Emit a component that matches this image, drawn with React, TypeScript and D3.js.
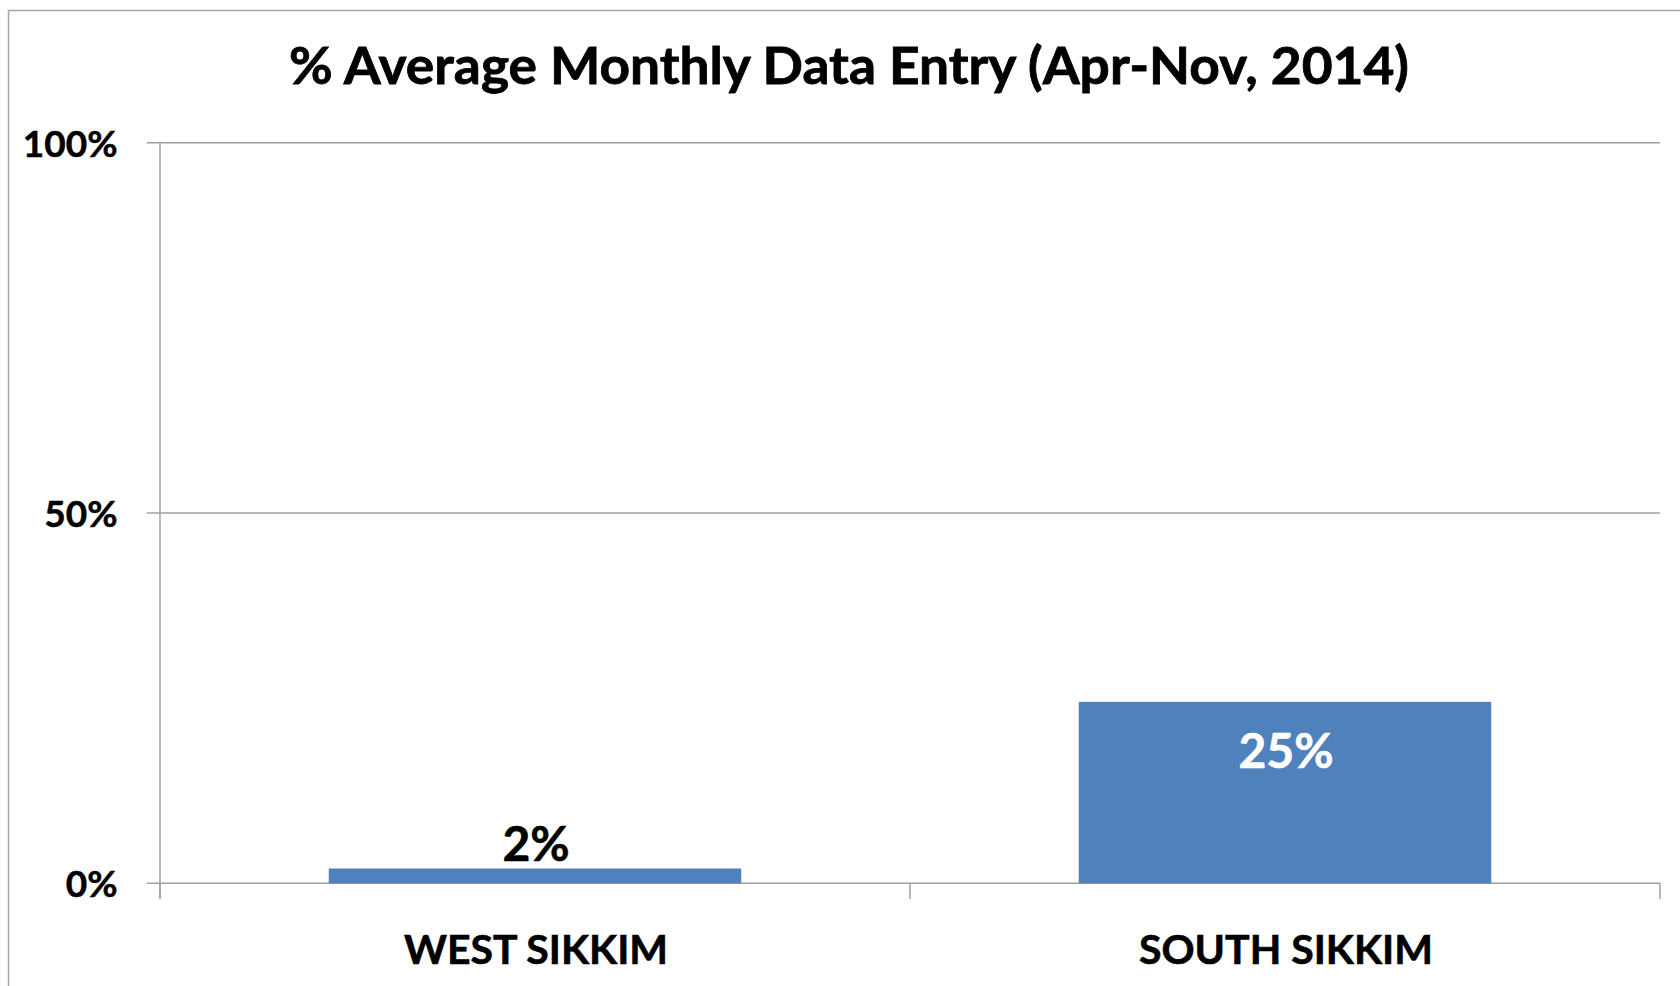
import React from "react";
import * as d3 from "d3";

const categories = ["WEST SIKKIM", "SOUTH SIKKIM"];
const values = [0.02, 0.245];
const valueLabels = ["2%", "25%"];
const yTicks = [0, 0.5, 1];
const title = "% Average Monthly Data Entry (Apr-Nov, 2014)";

const W = 1680;
const H = 986;
const FONT = "Lato, 'Open Sans', sans-serif";

export default function App() {
  const left = 160, right = 1660, top = 142.7, bottom = 883.3;
  const x = d3.scaleBand<string>().domain(categories).range([left, right]).paddingInner(0.45).paddingOuter(0.225);
  const y = d3.scaleLinear().domain([0, 1]).range([bottom, top]);
  const step = x.step();
  const grid = "#a0a0a0";
  const fmt = d3.format(".0%");

  return (
    <svg width={W} height={H} style={{ position: "absolute", left: 0, top: 0, background: "#fff" }}>
      <rect x={8.5} y={10.5} width={1700} height={1000} fill="#fff" stroke="#a6a6a6" strokeWidth={1.5} />
      <text
        x={849}
        y={83.5}
        textAnchor="middle"
        fontFamily={FONT}
        fontWeight={700}
        fontSize={52}
        fill="#000"
        stroke="#000"
        strokeWidth={0.8}
        textLength={1120}
        lengthAdjust="spacingAndGlyphs"
      >
        {title}
      </text>
      {yTicks.map((t) => (
        <g key={t}>
          <line x1={146.7} x2={right} y1={y(t)} y2={y(t)} stroke={grid} strokeWidth={1.5} />
          <text x={117.5} y={y(t) + 14} textAnchor="end" fontFamily={FONT} fontWeight={700} fontSize={37} fill="#000" stroke="#000" strokeWidth={0.5}>
            {fmt(t)}
          </text>
        </g>
      ))}
      <line x1={left} x2={left} y1={top} y2={899} stroke={grid} strokeWidth={1.5} />
      {[0, 1, 2].map((i) => (
        <line key={i} x1={left + i * step} x2={left + i * step} y1={bottom} y2={899} stroke={grid} strokeWidth={1.5} />
      ))}
      {categories.map((c, i) => {
        const bx = x(c)!;
        const bw = x.bandwidth();
        const by = y(values[i]);
        const cx = bx + bw / 2;
        const inside = values[i] > 0.1;
        const col = inside ? "#fff" : "#000";
        return (
          <g key={c}>
            <rect x={bx} y={by} width={bw} height={bottom - by} fill="#4f81bd" />
            <text
              x={cx + 1}
              y={inside ? by + 66 : by - 7}
              textAnchor="middle"
              fontFamily={FONT}
              fontWeight={700}
              fontSize={48}
              fill={col}
              stroke={col}
              strokeWidth={0.6}
            >
              {valueLabels[i]}
            </text>
            <text x={cx + 1} y={964} textAnchor="middle" fontFamily={FONT} fontWeight={700} fontSize={41} fill="#000" stroke="#000" strokeWidth={0.6}>
              {c}
            </text>
          </g>
        );
      })}
    </svg>
  );
}
